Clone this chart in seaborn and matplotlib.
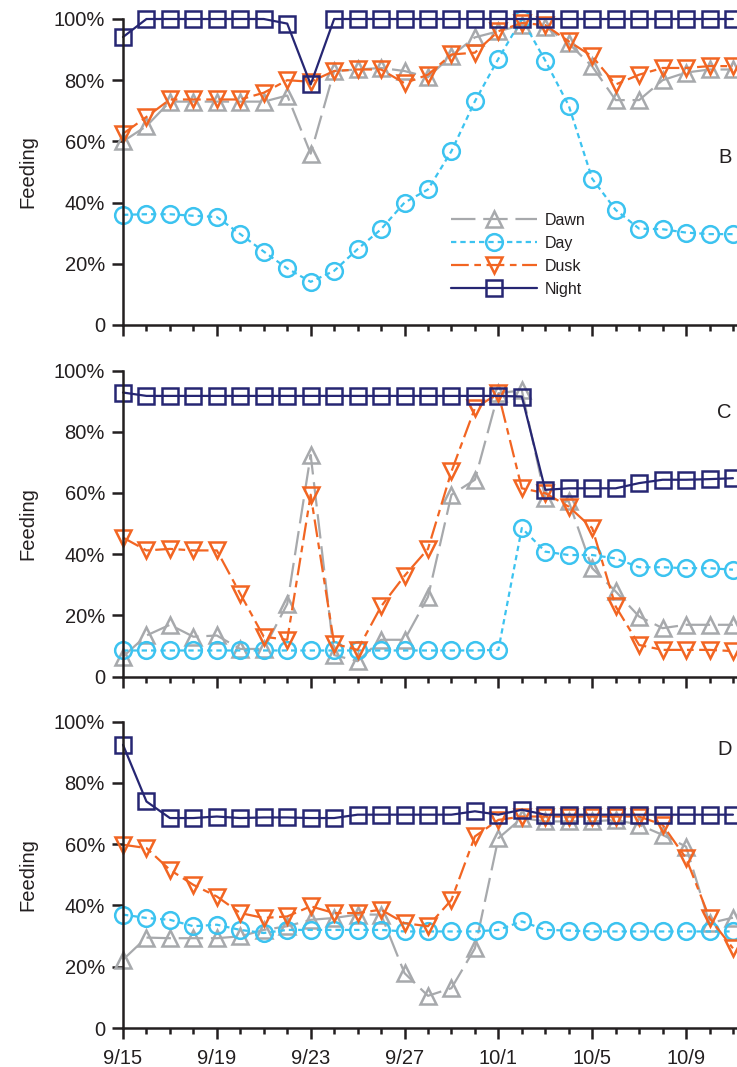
import numpy as np
import pandas as pd
import matplotlib
matplotlib.use("Agg")
import matplotlib.pyplot as plt
import seaborn as sns

sns.set_style("ticks")
plt.rcParams['font.family'] = ['Liberation Sans', 'DejaVu Sans']

days = list(range(27))  # 9/15 .. 10/11
tick_days = [0, 4, 8, 12, 16, 20, 24]
tick_labels = ["9/15", "9/19", "9/23", "9/27", "10/1", "10/5", "10/9"]
y_ticks = [0, 20, 40, 60, 80, 100]
y_labels = ["0", "20%", "40%", "60%", "80%", "100%"]
series_names = ["Dawn", "Day", "Dusk", "Night"]
panel_names = ["B", "C", "D"]

# Panel B
B_dawn = [60, 65, 73, 73, 73, 73, 73, 75, 56, 83, 83.5, 84, 83, 81, 88, 94, 96, 98, 97.5, 92, 84.5, 73.5, 73.5, 80, 82.5, 83.5, 83.5]
B_day = [36, 36.2, 36.2, 35.7, 35.3, 29.7, 24, 18.5, 14.1, 17.7, 24.8, 31.3, 40, 44.3, 56.8, 73.1, 87, 100, 86.4, 71.7, 47.8, 37.6, 31.5, 31.3, 30.2, 29.7, 29.7]
B_dusk = [62.5, 68, 73.7, 73.7, 73.7, 73.7, 75.9, 80, 79.5, 83, 83.5, 83.5, 79, 81.8, 88.4, 89, 96, 98.7, 98, 92.7, 87.8, 78.6, 81.8, 84, 84, 84.6, 84.6]
B_night = [94.1, 100, 100, 100, 100, 100, 100, 98.5, 78.6, 100, 100, 100, 100, 100, 100, 100, 100, 100, 100, 100, 100, 100, 100, 100, 100, 100, 100]

# Panel C
C_dawn = [6.5, 13.4, 16.9, 13, 13.4, 9, 9, 23.7, 72.4, 7, 5, 12, 12, 26, 59.4, 64.3, 92.6, 93.5, 58.3, 57.2, 35.4, 27.8, 19.6, 15.8, 16.9, 16.9, 16.9]
C_day = [8.5, 8.5, 8.5, 8.5, 8.5, 8.5, 8.5, 8.5, 8.5, 8.5, 8.5, 8.5, 8.5, 8.5, 8.5, 8.5, 8.7, 48.5, 40.8, 39.7, 39.7, 38.6, 35.7, 35.7, 35.4, 35.4, 34.9]
C_dusk = [45.4, 41.2, 41.7, 41.2, 41.2, 27, 13, 12, 59.4, 10.7, 8.7, 22.9, 32.9, 41.7, 67, 87.7, 92.5, 61.5, 59.9, 55.5, 48.5, 22.9, 10.3, 8.7, 8.7, 8.7, 8.3]
C_night = [92.8, 91.7, 91.7, 91.7, 91.7, 91.7, 91.7, 91.7, 91.7, 91.7, 91.7, 91.7, 91.7, 91.7, 91.7, 91.7, 91.7, 91.5, 61, 61.5, 61.5, 61.5, 63.2, 64.3, 64.3, 64.5, 64.8]

# Panel D
D_dawn = [22.3, 29.5, 29.3, 29.3, 29.3, 29.9, 32, 33.2, 35.3, 35.9, 37, 37, 17.9, 10.5, 13, 26, 61.9, 68.5, 67.4, 67.4, 67.4, 67.9, 66.3, 63, 59.2, 34.2, 36]
D_day = [37, 35.9, 35.3, 33.2, 33.7, 32, 31, 32, 32, 32, 32, 32, 31.5, 31.5, 31.5, 31.5, 32, 34.8, 32, 31.8, 31.5, 31.5, 31.5, 31.5, 31.5, 31.5, 31.5]
D_dusk = [59.8, 58.7, 51.6, 46.7, 42.9, 37.5, 35.9, 36.4, 39.7, 37.5, 37.5, 38.6, 34.2, 33.2, 41.8, 62.5, 67.9, 69, 69, 69, 69, 69, 69, 66.3, 55.4, 35.9, 26]
D_night = [92.4, 73.9, 68.5, 68.5, 69, 68.5, 68.7, 68.7, 68.5, 68.5, 69.6, 69.6, 69.6, 69.6, 69.6, 70.7, 69.6, 71.2, 69.6, 69.6, 69.6, 69.6, 69.6, 69.6, 69.6, 69.6, 69.6]

panels = [
    [B_dawn, B_day, B_dusk, B_night],
    [C_dawn, C_day, C_dusk, C_night],
    [D_dawn, D_day, D_dusk, D_night],
]

colors = {"Dawn": "#a7a9ac", "Day": "#3cc3f0", "Dusk": "#f26522", "Night": "#262673"}
markers = {"Dawn": "^", "Day": "o", "Dusk": "v", "Night": "s"}
lstyles = {"Dawn": (0, (11, 3.5)), "Day": (0, (2.4, 1.8)), "Dusk": (0, (8, 2.5, 3, 2.5)), "Night": "-"}
msizes = {"Dawn": 11.5, "Day": 12, "Dusk": 11.5, "Night": 11}

W, H = 737, 1067
fig = plt.figure(figsize=(W / 100, H / 100), dpi=100)

left = 123 / W
xmax = (W - 123) / 23.46
axes_px = [(19, 325), (370.5, 676.5), (721.5, 1028)]
letter_pos = [54.9, 86.3, 90.8]
FS = 14.5

for i, (top, bot) in enumerate(axes_px):
    ax = fig.add_axes([left, 1 - bot / H, 1 - left, (bot - top) / H])
    for name, vals in zip(series_names, panels[i]):
        df = pd.DataFrame({"day": days, "val": vals})
        sns.lineplot(data=df, x="day", y="val", ax=ax, color=colors[name],
                     marker=markers[name], markersize=msizes[name],
                     markerfacecolor="none", markeredgecolor=colors[name],
                     markeredgewidth=1.8, linewidth=1.6, linestyle=lstyles[name],
                     clip_on=False, label=name if i == 0 else None, legend=False)
    ax.set_xlim(0, xmax)
    ax.set_ylim(0, 100)
    ax.set_yticks(y_ticks)
    ax.set_yticklabels(y_labels, fontsize=FS)
    ax.set_xticks(tick_days)
    ax.set_xticks(days, minor=True)
    if i == 2:
        ax.set_xticklabels(tick_labels, fontsize=FS)
    else:
        ax.set_xticklabels([])
    ax.tick_params(axis="y", which="major", direction="out", length=8, width=1.8, color="#231f20", pad=5, labelcolor="#231f20")
    ax.tick_params(axis="x", which="major", direction="out", length=8, width=1.8, color="#231f20", pad=7, labelcolor="#231f20")
    ax.tick_params(axis="x", which="minor", direction="out", length=4.5, width=1.8, color="#231f20")
    ax.set_ylabel("Feeding", fontsize=FS, labelpad=12, color="#231f20")
    ax.set_xlabel("")
    for s in ["top", "right"]:
        ax.spines[s].set_visible(False)
    for s in ["left", "bottom"]:
        ax.spines[s].set_linewidth(1.8)
        ax.spines[s].set_color("#231f20")
    ax.text(25.65, letter_pos[i], panel_names[i], fontsize=FS, ha="center", va="center", color="#231f20")
    ax.patch.set_alpha(0)
    if i == 0:
        leg = ax.legend(loc="upper left", bbox_to_anchor=((451 - 123) / (W - 123), (325 - 213) / 306),
                        frameon=False, fontsize=11.5, handlelength=5.4, handletextpad=0.5,
                        labelspacing=0.5, borderpad=0, borderaxespad=0)
        for t in leg.get_texts():
            t.set_color("#231f20")

fig.savefig("out.png", dpi=100)
